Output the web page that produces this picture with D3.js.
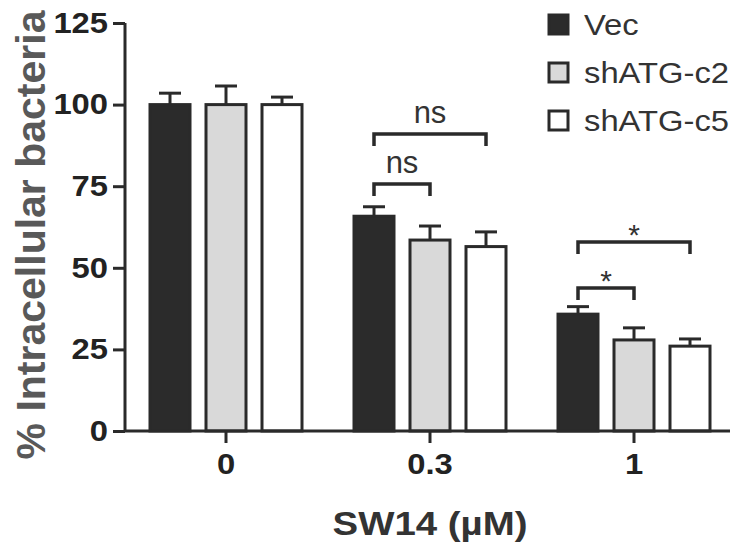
<!DOCTYPE html>
<html>
<head>
<meta charset="utf-8">
<script src="https://cdn.jsdelivr.net/npm/d3@7"></script>
<style>
  body { margin: 0; background: #fff; }
  svg { display: block; font-family: "Liberation Sans", Arial, sans-serif; }
</style>
</head>
<body>
<svg id="chart" width="730" height="547"></svg>
<script>
// data
var groups = ["0", "0.3", "1"],
    series = ["Vec", "shATG-c2", "shATG-c5"],
    fills = ["#2b2b2b", "#d9d9d9", "#ffffff"],
    vecMean = [100, 65.8, 35.8],
    c2Mean = [100, 58.5, 27.9],
    c5Mean = [100, 56.5, 26.0],
    vecErr = [3.5, 2.9, 2.3],
    c2Err = [5.7, 4.3, 3.7],
    c5Err = [2.3, 4.5, 2.2],
    yTicks = [0, 25, 50, 75, 100, 125];

// significance brackets: group, from, to, height, label
var brGroup = ["0.3", "0.3", "1", "1"],
    brFrom = ["Vec", "Vec", "Vec", "Vec"],
    brTo = ["shATG-c2", "shATG-c5", "shATG-c2", "shATG-c5"],
    brY = [75.7, 91, 43.8, 57.9],
    brLabel = ["ns", "ns", "*", "*"];

var means = [vecMean, c2Mean, c5Mean],
    errs = [vecErr, c2Err, c5Err];

var bars = [];
series.forEach(function(s, i) {
  groups.forEach(function(g, j) {
    bars.push({ series: s, group: g, value: means[i][j], err: errs[i][j], fill: fills[i] });
  });
});

var svg = d3.select("#chart"),
    ink = "#2a2a2a",
    stretch = "scale(1.13,1)";   // the figure's text is a bit wide

var y = d3.scaleLinear().domain([0, 125]).range([431, 23]);
var x = d3.scaleBand().domain(groups).range([124, 736]);
var xs = d3.scaleBand().domain(series).range([-84, 84])
    .paddingInner(16 / 56).paddingOuter(8 / 56);

function cx(g, s) { return x(g) + x.bandwidth() / 2 + xs(s) + xs.bandwidth() / 2; }

// bars
svg.append("g").selectAll("rect")
  .data(bars).enter().append("rect")
    .attr("x", function(d) { return x(d.group) + x.bandwidth() / 2 + xs(d.series); })
    .attr("y", function(d) { return y(d.value); })
    .attr("width", xs.bandwidth())
    .attr("height", function(d) { return y(0) - y(d.value); })
    .attr("fill", function(d) { return d.fill; })
    .attr("stroke", ink)
    .attr("stroke-width", 3);

// error bars (upper only)
var eb = svg.append("g").attr("stroke", ink).attr("stroke-width", 3);
eb.selectAll("line.v").data(bars).enter().append("line")
    .attr("x1", function(d) { return cx(d.group, d.series); })
    .attr("x2", function(d) { return cx(d.group, d.series); })
    .attr("y1", function(d) { return y(d.value); })
    .attr("y2", function(d) { return y(d.value + d.err); });
eb.selectAll("line.h").data(bars).enter().append("line")
    .attr("x1", function(d) { return cx(d.group, d.series) - 11; })
    .attr("x2", function(d) { return cx(d.group, d.series) + 11; })
    .attr("y1", function(d) { return y(d.value + d.err); })
    .attr("y2", function(d) { return y(d.value + d.err); });

// y axis
var yAxis = svg.append("g")
    .attr("transform", "translate(125,0)")
    .call(d3.axisLeft(y).tickValues(yTicks).tickSize(12).tickPadding(3));
// x axis
var xAxis = svg.append("g")
    .attr("transform", "translate(0,431)")
    .call(d3.axisBottom(x).tickSize(12).tickPadding(10));

[yAxis, xAxis].forEach(function(a) {
  a.select(".domain").attr("stroke", ink).attr("stroke-width", 3);
  a.selectAll(".tick line").attr("stroke", ink).attr("stroke-width", 3);
  a.selectAll(".tick text").attr("fill", "#222").attr("font-size", 29)
    .attr("font-weight", "bold").attr("font-family", "Liberation Sans, Arial, sans-serif")
    .attr("transform", stretch);
});
yAxis.select(".domain").attr("d", "M0,431V23");
xAxis.select(".domain").attr("d", "M125,0H730");

// brackets
var br = brGroup.map(function(g, i) {
  return { x1: cx(g, brFrom[i]), x2: cx(g, brTo[i]), y: y(brY[i]), label: brLabel[i] };
});
svg.append("g").selectAll("path").data(br).enter().append("path")
    .attr("d", function(d) { return "M" + d.x1 + "," + (d.y + 12) + "V" + d.y + "H" + d.x2 + "V" + (d.y + 12); })
    .attr("fill", "none").attr("stroke", ink).attr("stroke-width", 3.5);
svg.append("g").selectAll("text").data(br).enter().append("text")
    .attr("x", function(d) { return (d.x1 + d.x2) / 2; })
    .attr("y", function(d) { return d.label === "*" ? d.y + 3 : d.y - 11; })
    .attr("text-anchor", "middle")
    .attr("font-size", function(d) { return d.label === "*" ? 30 : 31; })
    .attr("fill", "#333")
    .text(function(d) { return d.label; });

// legend
var lg = svg.append("g").selectAll("g").data(series).enter().append("g")
    .attr("transform", function(d, i) { return "translate(549," + (24 + i * 48) + ")"; });
lg.append("rect")
    .attr("x", 0).attr("y", -9).attr("width", 19).attr("height", 19)
    .attr("fill", function(d, i) { return fills[i]; })
    .attr("stroke", ink).attr("stroke-width", 3);
lg.append("text")
    .attr("transform", "translate(35,11) " + stretch)
    .attr("font-size", 29).attr("fill", "#333")
    .text(function(d) { return d; });

// axis titles
svg.append("text")
    .attr("transform", "translate(45,235) rotate(-90)")
    .attr("text-anchor", "middle")
    .attr("font-size", 41).attr("font-weight", "bold").attr("fill", "#595959")
    .text("% Intracellular bacteria");
svg.append("text")
    .attr("transform", "translate(430,535) " + stretch)
    .attr("text-anchor", "middle")
    .attr("font-size", 34).attr("font-weight", "bold").attr("fill", "#333")
    .text("SW14 (µM)");
</script>
</body>
</html>
